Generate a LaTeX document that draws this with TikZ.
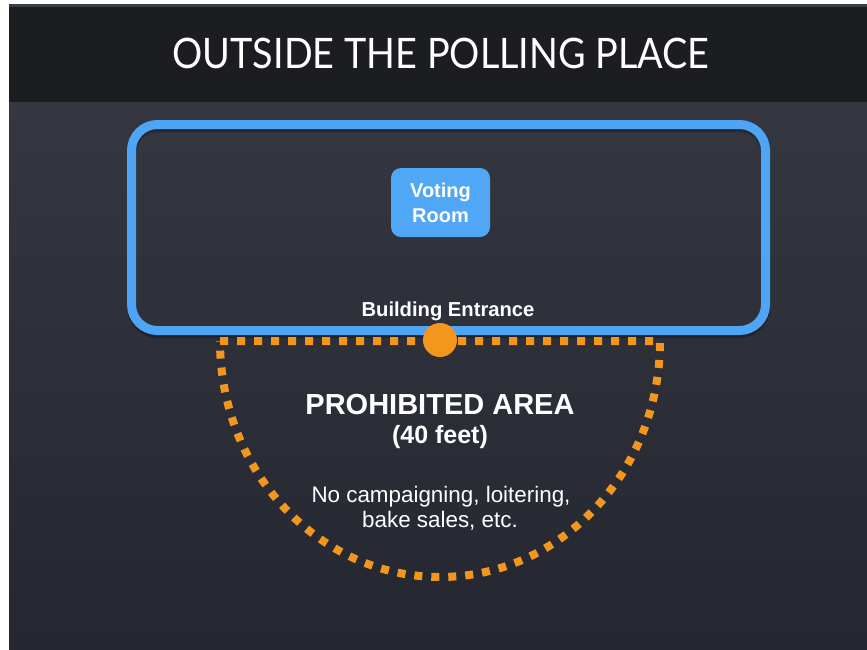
\documentclass[tikz,border=0pt]{standalone}
\usepackage{fontspec}
\setmainfont{Liberation Sans}
\newfontfamily\titlefont{Lato}
\usepackage{xcolor}
\usepackage{tikz}
\usetikzlibrary{positioning}

\definecolor{barbg}{RGB}{28,29,33}
\definecolor{stripgray}{RGB}{58,61,69}
\definecolor{bodytop}{RGB}{52,55,64}
\definecolor{bodybot}{RGB}{36,39,48}
\definecolor{bldgblue}{RGB}{78,165,246}
\definecolor{roomblue}{RGB}{80,167,245}
\definecolor{zoneorange}{RGB}{243,150,30}

\begin{document}
\begin{tikzpicture}[x=1pt, y=-1pt,
    building/.style={draw=bldgblue, line width=9pt, rounded corners=26pt,
        minimum width=634pt, minimum height=206pt},
    room/.style={fill=roomblue, rounded corners=10pt, minimum width=99pt,
        minimum height=69pt, text=white, align=center,
        font=\bfseries\fontsize{20}{25}\selectfont},
    zone/.style={draw=zoneorange, line width=8pt, dash pattern=on 8pt off 9pt},
    door/.style={circle, fill=zoneorange, minimum size=34pt, inner sep=0pt},
    label/.style={text=white, anchor=base}]

    \useasboundingbox (0,0) rectangle (867,649);
    \fill[white] (0,0) rectangle (867,649);
    \fill[stripgray] (9,4) rectangle (867,7);
    \fill[barbg] (9,7) rectangle (867,102);
    \shade[top color=bodytop, bottom color=bodybot] (9,102) rectangle (867,649);

    \node[label, font=\titlefont\fontsize{42}{50}\selectfont] (title) at (441,68) {\scalebox{0.9}[1]{OUTSIDE THE POLLING PLACE}};

    \node[draw=black, opacity=0.25, line width=9pt, rounded corners=26pt,
        minimum width=634pt, minimum height=206pt] at (448.5,230.5) {};
    \node[building] (bldg) at (448.5,227.5) {};
    \node[room] (room) at (440.5,202.5) {Voting\\Room};
    \node[label, font=\bfseries\fontsize{20.2}{24}\selectfont] (entlabel) at (448,316) {Building Entrance};

    \coordinate (zl) at (220,341);
    \coordinate (zr) at (660,341);
    \draw[zone] (zl) -- (zr) arc[start angle=0, end angle=180, x radius=220, y radius=236];
    \node[door] (entrance) at (440,340) {};

    \node[label, font=\bfseries\fontsize{29}{34}\selectfont] (area) at (440,414) {PROHIBITED AREA};
    \node[label, font=\bfseries\fontsize{25}{30}\selectfont] (dist) at (440,443) {(40 feet)};
    \node[label, font=\fontsize{22.4}{27}\selectfont] (rule1) at (441,502) {No campaigning, loitering,};
    \node[label, font=\fontsize{22.4}{27}\selectfont] (rule2) at (440,527) {bake sales, etc.};
\end{tikzpicture}
\end{document}
